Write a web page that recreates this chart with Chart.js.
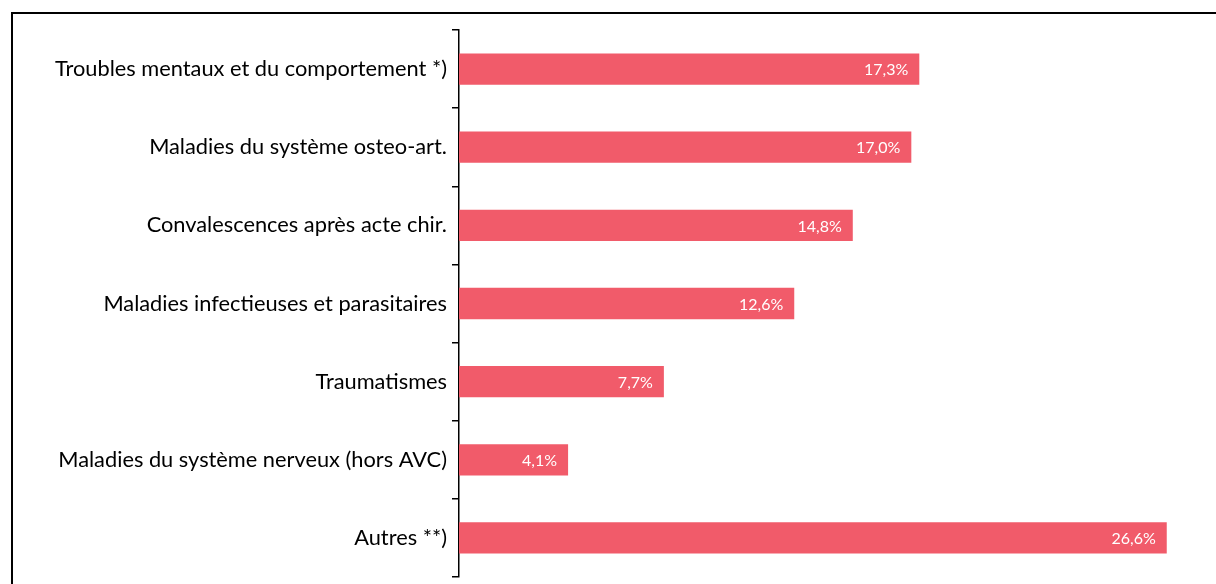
<!DOCTYPE html>
<html>
<head>
<meta charset="utf-8">
<script src="https://cdn.jsdelivr.net/npm/chart.js@4"></script>
<style>
    html, body { margin: 0; padding: 0; background: #fff; overflow: hidden; }
    #frame {
        position: absolute;
        left: 11px;
        top: 12px;
        width: 1300px;
        height: 700px;
        border-top: 2px solid #000;
        border-left: 2px solid #000;
    }
    #wrap { position: absolute; left: 0; top: 0; width: 1216px; height: 584px; }
</style>
</head>
<body>
<div id="frame"></div>
<div id="wrap"><canvas id="chart"></canvas></div>
<script>
const categories = [
    "Troubles mentaux et du comportement *)",
    "Maladies du système osteo-art.",
    "Convalescences après acte chir.",
    "Maladies infectieuses et parasitaires",
    "Traumatismes",
    "Maladies du système nerveux (hors AVC)",
    "Autres **)"
];
const shares = [17.3, 17.0, 14.8, 12.6, 7.7, 4.1, 26.6];

// write the value at the end of each bar, inside it
const barLabels = {
    id: "barLabels",
    afterDatasetsDraw(chart) {
        const ctx = chart.ctx;
        const meta = chart.getDatasetMeta(0);
        ctx.save();
        ctx.fillStyle = "#fff";
        ctx.font = "16px Lato";
        ctx.textAlign = "right";
        ctx.textBaseline = "middle";
        meta.data.forEach((bar, i) => {
            const txt = shares[i].toFixed(1).replace(".", ",") + "%";
            ctx.fillText(txt, bar.x - 11, bar.y + 1);
        });
        ctx.restore();
    }
};

const ctx = document.getElementById("chart").getContext("2d");
new Chart(ctx, {
    type: "bar",
    data: {
        labels: categories,
        datasets: [{
            data: shares,
            backgroundColor: "#F15B6A",
            barPercentage: 0.8,
            categoryPercentage: 0.5
        }]
    },
    options: {
        indexAxis: "y",
        responsive: true,
        maintainAspectRatio: false,
        animation: false,
        layout: { padding: { top: 30, bottom: 7, left: 0, right: 12 } },
        plugins: {
            legend: { display: false },
            tooltip: { enabled: false }
        },
        scales: {
            x: {
                display: false,
                min: 0,
                max: 28
            },
            y: {
                afterFit: scale => {
                    scale.width = 459;
                    scale.paddingTop = 0;
                    scale.paddingBottom = 0;
                },
                border: { display: true, color: "#000", width: 1.5 },
                grid: {
                    drawOnChartArea: false,
                    drawTicks: true,
                    tickLength: 7,
                    color: "#000",
                    lineWidth: 1.5
                },
                ticks: {
                    color: "#000",
                    padding: 5,
                    font: { family: "Lato", size: 21.8 }
                }
            }
        }
    },
    plugins: [barLabels]
});
</script>
</body>
</html>
